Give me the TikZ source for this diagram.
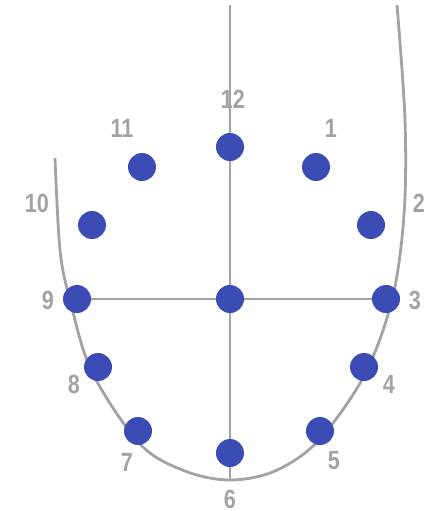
\documentclass[tikz,border=0pt]{standalone}
\usepackage{fontspec}
\setmainfont{Liberation Sans}[FakeStretch=0.82]
\usetikzlibrary{calc}
\definecolor{dotblue}{HTML}{3B4DB5}
\definecolor{lightgrey}{HTML}{A3A3A3}
\tikzset{
  every path/.style={
    lightgrey,
    line width=1pt
  },
  dot/.style={
    circle,
    fill=dotblue,
    draw=none,
    minimum size=28*0.02cm,
    inner sep=0pt
  },
  num/.style={
    text=lightgrey,
    font=\fontsize{15}{16}\selectfont\bfseries,
    inner sep=0pt
  }
}

\begin{document}
\begin{tikzpicture}[x=0.02cm, y=-0.02cm]
    \useasboundingbox (0,0) rectangle (431,511);

    % positions
    \coordinate (p12) at (230,147);
    \coordinate (p11) at (142,167);
    \coordinate (p1)  at (316,167);
    \coordinate (p10) at (92,225);
    \coordinate (p2)  at (371,225);
    \coordinate (p9)  at (77,299);
    \coordinate (pc)  at (230,299);
    \coordinate (p3)  at (386,299);
    \coordinate (p8)  at (98,367);
    \coordinate (p4)  at (364,367);
    \coordinate (p7)  at (138,431);
    \coordinate (p5)  at (320,431);
    \coordinate (p6)  at (230,453);
    \coordinate (top) at (230,5);
    \coordinate (bot) at (230,480);

    % face outline
    \draw[line width=1.6pt] plot[smooth, tension=0.55] coordinates {
      (55,158) (60,250) (70,300) (92,372) (140,444) (185,471) (230,480)
      (275,471) (318,441) (364,376) (392,300) (404,215) (405,120) (397,5)};

    % axes
    \draw (top) -- (bot);
    \draw (p9) -- (p3);

    % dots
    \node[dot] (n12) at (p12) {};
    \node[dot] (n11) at (p11) {};
    \node[dot] (n1)  at (p1)  {};
    \node[dot] (n10) at (p10) {};
    \node[dot] (n2)  at (p2)  {};
    \node[dot] (n9)  at (p9)  {};
    \node[dot] (c)   at (pc)  {};
    \node[dot] (n3)  at (p3)  {};
    \node[dot] (n8)  at (p8)  {};
    \node[dot] (n4)  at (p4)  {};
    \node[dot] (n7)  at (p7)  {};
    \node[dot] (n5)  at (p5)  {};
    \node[dot] (n6)  at (p6)  {};

    % labels
    \node[num] (l12) at (233,99)  {12};
    \node[num] (l11) at (122,128) {11};
    \node[num] (l1)  at (331,128) {1};
    \node[num] (l10) at (37,203)  {10};
    \node[num] (l2)  at (419,203) {2};
    \node[num] (l9)  at (48,300)  {9};
    \node[num] (l3)  at (415,300) {3};
    \node[num] (l8)  at (74,384)  {8};
    \node[num] (l4)  at (389,384) {4};
    \node[num] (l7)  at (127,462) {7};
    \node[num] (l5)  at (334,461) {5};
    \node[num] (l6)  at (230,499) {6};
\end{tikzpicture}
\end{document}
